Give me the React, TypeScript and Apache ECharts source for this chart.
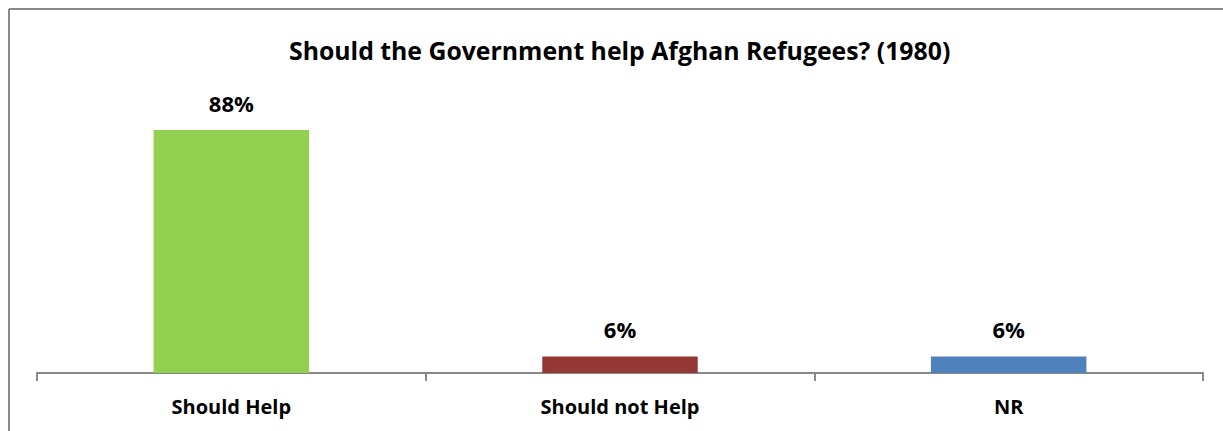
import React, { useEffect, useRef } from "react";
import * as echarts from "echarts";

const categories = ["Should Help", "Should not Help", "NR"];
const values = [88, 6, 6];
const barColors = ["#92D050", "#953735", "#4F81BD"];
const titleText = "Should the Government help Afghan Refugees? (1980)";

export default function App() {
  const ref = useRef<HTMLDivElement>(null);
  useEffect(() => {
    const chart = echarts.init(ref.current!, null, { renderer: "svg" });
    const font = "'Open Sans', 'Noto Sans', sans-serif";
    chart.setOption({
      animation: false,
      backgroundColor: "#ffffff",
      title: {
        text: titleText,
        left: 284,
        top: 32,
        textStyle: { fontFamily: font, fontWeight: "bold", fontSize: 24.8, color: "#000" },
      },
      grid: { left: 37, right: 20, top: 97, bottom: 58 },
      xAxis: {
        type: "category",
        data: categories,
        axisLine: { lineStyle: { color: "#888", width: 2 } },
        axisTick: { show: true, length: 8, lineStyle: { color: "#888", width: 2 } },
        axisLabel: { fontFamily: font, fontWeight: "bold", fontSize: 20, color: "#000", margin: 23 },
      },
      yAxis: { type: "value", min: 0, max: 100, show: false, splitLine: { show: false } },
      series: [
        {
          type: "bar",
          barWidth: "40%",
          data: values.map((v, i) => ({ value: v, itemStyle: { color: barColors[i] } })),
          label: {
            show: true,
            position: "top",
            distance: 16,
            formatter: "{c}%",
            fontFamily: font,
            fontWeight: "bold",
            fontSize: 22,
            color: "#000",
          },
        },
      ],
      graphic: [
        { type: "line", shape: { x1: 9, y1: 9, x2: 1223, y2: 9 }, style: { stroke: "#888", lineWidth: 2 } },
        { type: "line", shape: { x1: 9, y1: 9, x2: 9, y2: 431 }, style: { stroke: "#888", lineWidth: 2 } },
      ],
    });
    return () => chart.dispose();
  }, []);
  return <div ref={ref} style={{ position: "fixed", left: 0, top: 0, width: 1223, height: 431 }} />;
}
